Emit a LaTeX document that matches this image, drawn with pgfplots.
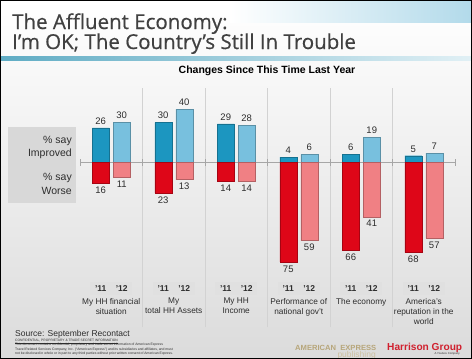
\documentclass[border=0pt]{standalone}
\usepackage{fontspec}
\setmainfont{Liberation Sans}
\newfontfamily\titlefont{Open Sans}[FakeBold=0.6]
\usepackage{pgfplots}
\pgfplotsset{compat=1.18}
\definecolor{impA}{RGB}{28,150,192}
\definecolor{impB}{RGB}{120,192,222}
\definecolor{worA}{RGB}{222,6,24}
\definecolor{worB}{RGB}{240,128,132}
\definecolor{titlegray}{RGB}{64,64,64}
\definecolor{txt}{RGB}{45,45,45}
\definecolor{sepgray}{RGB}{210,210,210}
\definecolor{boxgray}{RGB}{216,216,216}
\definecolor{tan}{RGB}{183,166,122}
\definecolor{hgred}{RGB}{208,32,46}
\begin{document}
\begin{tikzpicture}[x=1pt,y=1pt]
\path[use as bounding box] (0,0) rectangle (472,-359);
\shade[top color=white, middle color=white, bottom color=black!14] (0,0) rectangle (472,-359);
\shade[left color=white, right color={rgb,255:red,178;green,218;blue,234}] (230,0) rectangle (472,-22);
\shade[left color={rgb,255:red,95;green,172;blue,196}, right color={rgb,255:red,225;green,240;blue,245}] (0,-56.5) rectangle (472,-60);
% title
\node[anchor=base west, inner sep=0, text=titlegray, font=\titlefont\fontsize{20.5}{20}\selectfont] at (12,-29) {The Affluent Economy:};
\node[anchor=base west, inner sep=0, text=titlegray, font=\titlefont\fontsize{20.5}{20}\selectfont] at (12,-49) {I’m OK; The Country’s Still In Trouble};
\node[font=\bfseries\fontsize{10.5}{12}\selectfont, text=black] at (267,-71) {Changes Since This Time Last Year};
% left legend box
\fill[boxgray] (8,-127) rectangle (76,-203);
\node[anchor=base east, inner sep=0, font=\fontsize{10.5}{12}\selectfont, text=txt] at (72,-143) {\% say};
\node[anchor=base east, inner sep=0, font=\fontsize{10.5}{12}\selectfont, text=txt] at (72,-156) {Improved};
\node[anchor=base east, inner sep=0, font=\fontsize{10.5}{12}\selectfont, text=txt] at (72,-180) {\% say};
\node[anchor=base east, inner sep=0, font=\fontsize{10.5}{12}\selectfont, text=txt] at (72,-194) {Worse};
\begin{axis}[at={(80pt,-327pt)}, anchor=south west, width=375pt, height=239pt, scale only axis,
  xmin=-0.5, xmax=5.5, ymin=-124, ymax=56, hide axis, clip=false,
  ybar, bar width=17pt, nodes near coords, point meta=explicit symbolic,
  every node near coord/.append style={font=\fontsize{9.5}{11}\selectfont, text=txt}]
\pgfplotsinvokeforeach{0.5,1.5,2.5,3.5,4.5}{
  \draw[sepgray, line width=0.8pt] (axis cs:#1,-124) -- (axis cs:#1,56);
  \draw[gray!70] (axis cs:#1,-2.5) -- (axis cs:#1,2.5);
}
\draw[gray!70, line width=0.8pt] (axis cs:-0.5,0) -- (axis cs:5.5,0);
\draw[gray!70] (axis cs:-0.5,-2.5) -- (axis cs:-0.5,2.5);
\draw[gray!70] (axis cs:5.5,-2.5) -- (axis cs:5.5,2.5);
\addplot[fill=impA, draw=impA!75!black, bar shift=-10.5pt] coordinates {(0,26)[26] (1,30)[30] (2,29)[29] (3,4)[4] (4,6)[6] (5,5)[5]};
\addplot[fill=worA, draw=worA!75!black, bar shift=-10.5pt, nodes near coords style={anchor=north}] coordinates {(0,-16)[16] (1,-23)[23] (2,-14)[14] (3,-75)[75] (4,-66)[66] (5,-68)[68]};
\addplot[fill=impB, draw=impB!75!black, bar shift=10.5pt] coordinates {(0,30)[30] (1,40)[40] (2,28)[28] (3,6)[6] (4,19)[19] (5,7)[7]};
\addplot[fill=worB, draw=worB!75!black, bar shift=10.5pt, nodes near coords style={anchor=north}] coordinates {(0,-11)[11] (1,-13)[13] (2,-14)[14] (3,-59)[59] (4,-41)[41] (5,-57)[57]};
\end{axis}
% year boxes and category labels
\foreach \c in {111.25,173.75,236.25,298.75,361.25,423.75}{
  \fill[boxgray!80] (\c-21,-282) rectangle (\c+21,-295);
  \node[font=\bfseries\fontsize{8.5}{10}\selectfont, text=txt] at (\c-10.5,-288.5) {’11};
  \node[font=\bfseries\fontsize{8.5}{10}\selectfont, text=txt] at (\c+10.5,-288.5) {’12};
}
\tikzset{cat/.style={anchor=north, align=center, inner sep=0, font=\fontsize{8.3}{10}\selectfont, text=txt}}
\node[cat] at (111.25,-298) {My HH financial\\situation};
\node[cat] at (173.75,-298) {My\\total HH Assets};
\node[cat] at (236.25,-298) {My HH\\Income};
\node[cat] at (298.75,-298) {Performance of\\national gov’t};
\node[cat] at (361.25,-298) {The economy};
\node[cat] at (423.75,-298) {America’s\\reputation in the\\world};
% source and fine print
\node[anchor=base west, inner sep=0, font=\fontsize{8.5}{10}\selectfont, text=txt] at (15,-336) {Source: September Recontact};
\node[anchor=base west, inner sep=0, font=\fontsize{3.3}{4}\selectfont, text=txt] at (15,-341) {\underline{CONFIDENTIAL, PROPRIETARY \& TRADE SECRET INFORMATION}};
\node[anchor=base west, inner sep=0, font=\fontsize{3.4}{4}\selectfont, text=txt] at (15,-345.5) {This document contains confidential, proprietary and trade secret information of American Express};
\node[anchor=base west, inner sep=0, font=\fontsize{3.4}{4}\selectfont, text=txt] at (15,-350) {Travel Related Services Company, Inc. (“American Express”) and its subsidiaries and affiliates, and must};
\node[anchor=base west, inner sep=0, font=\fontsize{3.4}{4}\selectfont, text=txt] at (15,-354.5) {not be disclosed in whole or in part to any third parties without prior written consent of American Express.};
% logos
\node[anchor=base west, inner sep=0, text=tan, font=\bfseries] at (295,-350) {\resizebox{81pt}{5.2pt}{AMERICAN\ \ EXPRESS}};
\node[anchor=base east, inner sep=0, text=tan!70, font=\fontsize{8.5}{10}\selectfont] at (376,-357) {publishing};
\node[anchor=base west, inner sep=0, text=hgred, font=\bfseries] at (387,-350) {\resizebox{75pt}{!}{Harrison Group}};
\node[anchor=base east, inner sep=0, text=txt, font=\fontsize{2.8}{3}\selectfont] at (460,-354.5) {A YouGov Company};
\draw[black, line width=1.4pt] (0.7,-0.7) rectangle (471.3,-358.3);
\end{tikzpicture}
\end{document}
